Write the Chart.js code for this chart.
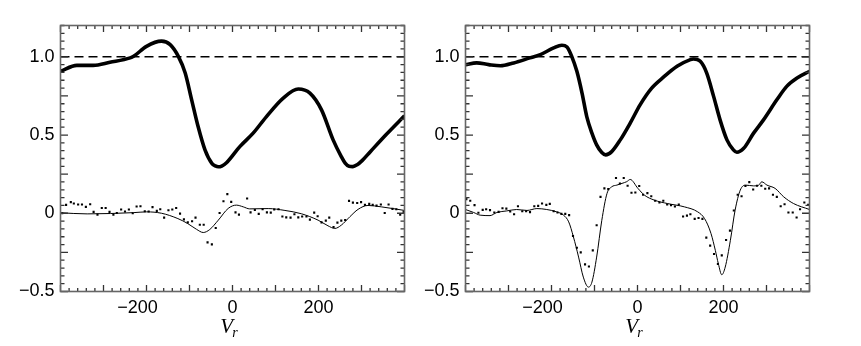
<!DOCTYPE html>
<html><head><meta charset="utf-8">
<script src="https://cdn.jsdelivr.net/npm/chart.js@4.4.0/dist/chart.umd.min.js"></script>
<style>
html,body{margin:0;padding:0;background:#fff;}
#wrap{position:relative;width:861px;height:346px;overflow:hidden;background:#fff;}
canvas{position:absolute;top:0;}
</style></head><body>
<div id="wrap">
<canvas id="c1" width="412" height="346" style="left:0px"></canvas>
<canvas id="c2" width="449" height="346" style="left:412px"></canvas>
</div>
<script>
// ---------- data ----------
const xTickValues = [-200, 0, 200];
const xTickLabels = ['\u2212200\u2002\u2002', '0', '200'];
const yTickValues = [-0.5, 0, 0.5, 1.0];
const yTickLabels = ['\u22120.5', '0', '0.5', '1.0'];
const xMinorTicks = [-400,-380,-360,-340,-320,-300,-280,-260,-240,-220,-200,-180,-160,-140,-120,-100,-80,-60,-40,-20,0,20,40,60,80,100,120,140,160,180,200,220,240,260,280,300,320,340,360,380,400];
const xMajorTicks = [-400,-300,-200,-100,0,100,200,300,400];
const yMinorTicks = [-0.5,-0.45,-0.4,-0.35,-0.3,-0.25,-0.2,-0.15,-0.1,-0.05,0,0.05,0.1,0.15,0.2,0.25,0.3,0.35,0.4,0.45,0.5,0.55,0.6,0.65,0.7,0.75,0.8,0.85,0.9,0.95,1.0,1.05,1.1,1.15,1.2];
const yMajorTicks = [-0.5,-0.25,0,0.25,0.5,0.75,1.0];
const xRange = [-400, 400];
const yRange = [-0.5, 1.2];
const refLevelV = [-400, 400];
const refLevelY = [1.0, 1.0];

// Left panel
const leftProfileV = [-400,-362,-324,-285,-238,-230,-200,-165,-145,-126,-110,-95,-80,-64,-48,-40,-33,-25,-14,17,48,79,118,153,180,207,234,253,262,271,280,290,302,320,358,400];
const leftProfileY = [0.907,0.945,0.945,0.965,0.993,1.003,1.067,1.100,1.078,1.003,0.897,0.725,0.554,0.405,0.319,0.303,0.297,0.302,0.323,0.426,0.512,0.618,0.736,0.794,0.768,0.661,0.469,0.362,0.320,0.300,0.298,0.310,0.338,0.392,0.505,0.623];
const leftModelV = [-400,-338,-230,-200,-165,-127,-104,-84,-68,-53,-33,-10,9,25,40,83,122,160,199,222,238,253,273,292,315,346,400];
const leftModelY = [0.003,-0.004,0.004,0.009,0.0,-0.034,-0.066,-0.102,-0.123,-0.104,-0.044,0.031,0.052,0.041,0.028,0.030,0.018,-0.003,-0.044,-0.080,-0.097,-0.076,-0.022,0.025,0.050,0.041,0.018];
const leftDotsV = [-396,-387,-376,-369,-359,-350,-341,-331,-323,-314,-304,-295,-286,-277,-269,-259,-250,-241,-232,-223,-214,-204,-195,-186,-176,-168,-159,-149,-140,-131,-122,-113,-104,-94,-86,-76,-67,-58,-48,-39,-30,-21,-12,-3,7,15,34,42,52,61,70,80,89,97,107,116,125,135,144,153,162,172,180,190,198,207,217,225,235,244,253,262,271,280,290,299,308,318,326,335,345,354,363,372,381,390,398];
const leftDotsY = [0.00,0.054,0.071,0.062,0.056,0.056,0.041,0.058,0.009,-0.009,0.034,0.034,0.009,-0.009,0.002,0.024,0.011,0.024,0.0,0.043,0.045,0.013,0.011,0.039,0.015,0.026,-0.028,0.019,0.024,0.034,-0.002,-0.039,-0.058,-0.051,-0.028,-0.073,-0.073,-0.186,-0.199,-0.094,0.002,0.077,0.122,0.073,0.006,-0.009,0.094,0.006,0.021,-0.004,0.026,0.006,0.004,0.024,0.026,-0.021,-0.026,-0.028,-0.006,-0.026,-0.021,-0.021,-0.041,0.004,-0.019,-0.058,-0.047,-0.028,-0.088,-0.060,-0.047,-0.043,0.079,0.068,0.066,0.071,0.054,0.060,0.054,0.049,0.056,0.002,0.056,0.028,0.026,-0.009,0.009];

// Right panel
const rightProfileV = [-400,-374,-346,-319,-288,-250,-226,-195,-176,-164,-153,-141,-129,-118,-106,-95,-83,-74,-60,-40,-17,6,33,61,92,123,130,146,161,177,192,208,223,231,247,270,293,324,347,371,400];
const rightProfileY = [0.950,0.961,0.950,0.943,0.961,0.993,1.014,1.057,1.074,1.063,1.003,0.907,0.768,0.618,0.512,0.437,0.388,0.373,0.394,0.469,0.576,0.693,0.800,0.871,0.939,0.982,0.986,0.971,0.896,0.747,0.597,0.469,0.405,0.390,0.415,0.512,0.597,0.725,0.811,0.864,0.907];
const rightModelV = [-400,-381,-366,-343,-327,-304,-281,-257,-234,-211,-188,-172,-160,-149,-137,-126,-114,-106,-95,-83,-71,-60,-48,-36,-25,-17,1,16,39,70,109,140,156,171,181,188,196,204,216,227,239,251,270,282,289,301,320,340,363,400];
const rightModelY = [0.024,0.005,-0.012,-0.015,0.005,0.015,0.024,0.018,0.030,0.024,0.009,-0.012,-0.055,-0.151,-0.280,-0.408,-0.472,-0.440,-0.280,-0.045,0.126,0.169,0.180,0.191,0.202,0.216,0.159,0.116,0.084,0.062,0.041,0.009,-0.034,-0.130,-0.237,-0.322,-0.393,-0.344,-0.173,0.020,0.148,0.180,0.175,0.180,0.201,0.180,0.159,0.105,0.062,0.024];
const rightDotsV = [-398,-389,-379,-370,-360,-352,-343,-333,-323,-314,-305,-296,-287,-278,-268,-259,-250,-240,-231,-222,-212,-204,-195,-186,-177,-168,-159,-150,-141,-132,-122,-113,-104,-95,-86,-77,-68,-50,-41,-32,-23,-14,-5,4,13,23,32,41,51,60,69,78,87,96,106,115,123,133,142,151,160,169,178,187,196,206,215,224,233,242,251,260,269,278,288,297,306,315,324,333,342,351,361,370,378,388,397];
const rightDotsY = [0.090,0.080,0.052,0.003,0.022,0.026,0.020,0.005,0.009,0.032,0.030,0.011,-0.006,0.045,0.013,0.013,0.007,0.045,0.047,0.062,0.054,0.060,0.013,0.005,-0.004,-0.004,-0.012,-0.145,-0.220,-0.250,-0.327,-0.340,-0.237,-0.077,0.105,0.159,0.154,0.225,0.190,0.225,0.176,0.131,0.133,0.174,0.118,0.129,0.109,0.080,0.069,0.080,0.056,0.052,0.043,0.056,-0.021,-0.015,-0.006,-0.036,-0.030,-0.036,-0.156,-0.207,-0.260,-0.324,-0.269,-0.171,-0.111,0.018,0.118,0.109,0.174,0.199,0.152,0.176,0.176,0.157,0.159,0.118,0.105,0.045,0.058,0.005,0.005,-0.027,0.026,0.069,0.054];

// ---------- helpers ----------
function pts(vs, ys) { return vs.map((v, i) => ({x: v, y: ys[i]})); }

const FRAME_COLOR = '#666';
const TICK_COLOR = '#333';
const TEXT_COLOR = '#000';

const framePlugin = {
  id: 'frame',
  afterDatasetsDraw(chart) {
    const {ctx, chartArea: a} = chart;
    const xs = chart.scales.x, ys = chart.scales.y;
    ctx.save();
    ctx.lineCap = 'butt';
    // ticks (inward on all four sides)
    ctx.strokeStyle = TICK_COLOR;
    ctx.lineWidth = 1.3;
    ctx.beginPath();
    xMinorTicks.forEach(v => {
      const px = xs.getPixelForValue(v);
      const len = xMajorTicks.includes(v) ? 6.5 : 3.5;
      ctx.moveTo(px, a.bottom); ctx.lineTo(px, a.bottom - len);
      ctx.moveTo(px, a.top); ctx.lineTo(px, a.top + len);
    });
    yMinorTicks.forEach(v => {
      const py = ys.getPixelForValue(v);
      const len = yMajorTicks.includes(v) ? 7.5 : 4;
      ctx.moveTo(a.left, py); ctx.lineTo(a.left + len, py);
      ctx.moveTo(a.right, py); ctx.lineTo(a.right - len, py);
    });
    ctx.stroke();
    // frame
    ctx.strokeStyle = FRAME_COLOR;
    ctx.lineWidth = 1.6;
    ctx.strokeRect(a.left, a.top, a.right - a.left, a.bottom - a.top);
    // axis title V_r
    const cx = xs.getPixelForValue(0) - 3;
    ctx.fillStyle = TEXT_COLOR;
    ctx.textBaseline = 'alphabetic';
    ctx.font = 'italic 21px "Liberation Serif", serif';
    const wV = ctx.measureText('V').width;
    ctx.font = 'italic 14px "Liberation Serif", serif';
    const wr = ctx.measureText('r').width;
    const x0 = cx - (wV + wr) / 2;
    ctx.font = 'italic 21px "Liberation Serif", serif';
    ctx.fillText('V', x0, 333);
    ctx.font = 'italic 14px "Liberation Serif", serif';
    ctx.fillText('r', x0 + wV - 1, 337);
    ctx.restore();
  }
};

function makePanel(id, yAxisWidth, padRight, profile, model, dots) {
  return new Chart(document.getElementById(id), {
    type: 'scatter',
    data: {
      datasets: [
        {data: pts(refLevelV, refLevelY), showLine: true, borderColor: '#000', borderWidth: 1.6, borderDash: [9, 5], pointRadius: 0},
        {data: profile, showLine: true, borderColor: '#000', borderWidth: 3.6, pointRadius: 0, cubicInterpolationMode: 'monotone'},
        {data: model, showLine: true, borderColor: '#000', borderWidth: 1, pointRadius: 0, cubicInterpolationMode: 'monotone'},
        {data: dots, showLine: false, pointStyle: 'rect', pointRadius: 1.5, backgroundColor: '#000', borderWidth: 0}
      ]
    },
    options: {
      responsive: false,
      animation: false,
      devicePixelRatio: 1,
      events: [],
      layout: {padding: {left: 0, top: 25.5, right: padRight, bottom: 0}},
      plugins: {legend: {display: false}, tooltip: {enabled: false}},
      scales: {
        x: {
          type: 'linear', min: xRange[0], max: xRange[1],
          grid: {display: false, drawTicks: false}, border: {display: false},
          afterBuildTicks: s => { s.ticks = xTickValues.map(v => ({value: v})); },
          afterFit: s => { s.height = 54.5; },
          ticks: {
            padding: 6, color: TEXT_COLOR, maxRotation: 0, autoSkip: false,
            font: {family: '"Liberation Sans", Arial, sans-serif', size: 18},
            callback: v => { const i = xTickValues.indexOf(v); return i >= 0 ? xTickLabels[i] : ''; }
          }
        },
        y: {
          type: 'linear', min: yRange[0], max: yRange[1],
          grid: {display: false, drawTicks: false}, border: {display: false},
          afterBuildTicks: s => { s.ticks = yTickValues.map(v => ({value: v})); },
          afterFit: s => { s.width = yAxisWidth; },
          ticks: {
            padding: 6, color: TEXT_COLOR, autoSkip: false,
            font: {family: '"Liberation Sans", Arial, sans-serif', size: 18},
            callback: v => { const i = yTickValues.indexOf(v); return i >= 0 ? yTickLabels[i] : ''; }
          }
        }
      }
    },
    plugins: [framePlugin]
  });
}

makePanel('c1', 60.5, 7.5, pts(leftProfileV, leftProfileY), pts(leftModelV, leftModelY), pts(leftDotsV, leftDotsY));
makePanel('c2', 53.5, 51.5, pts(rightProfileV, rightProfileY), pts(rightModelV, rightModelY), pts(rightDotsV, rightDotsY));
</script>
</body></html>
